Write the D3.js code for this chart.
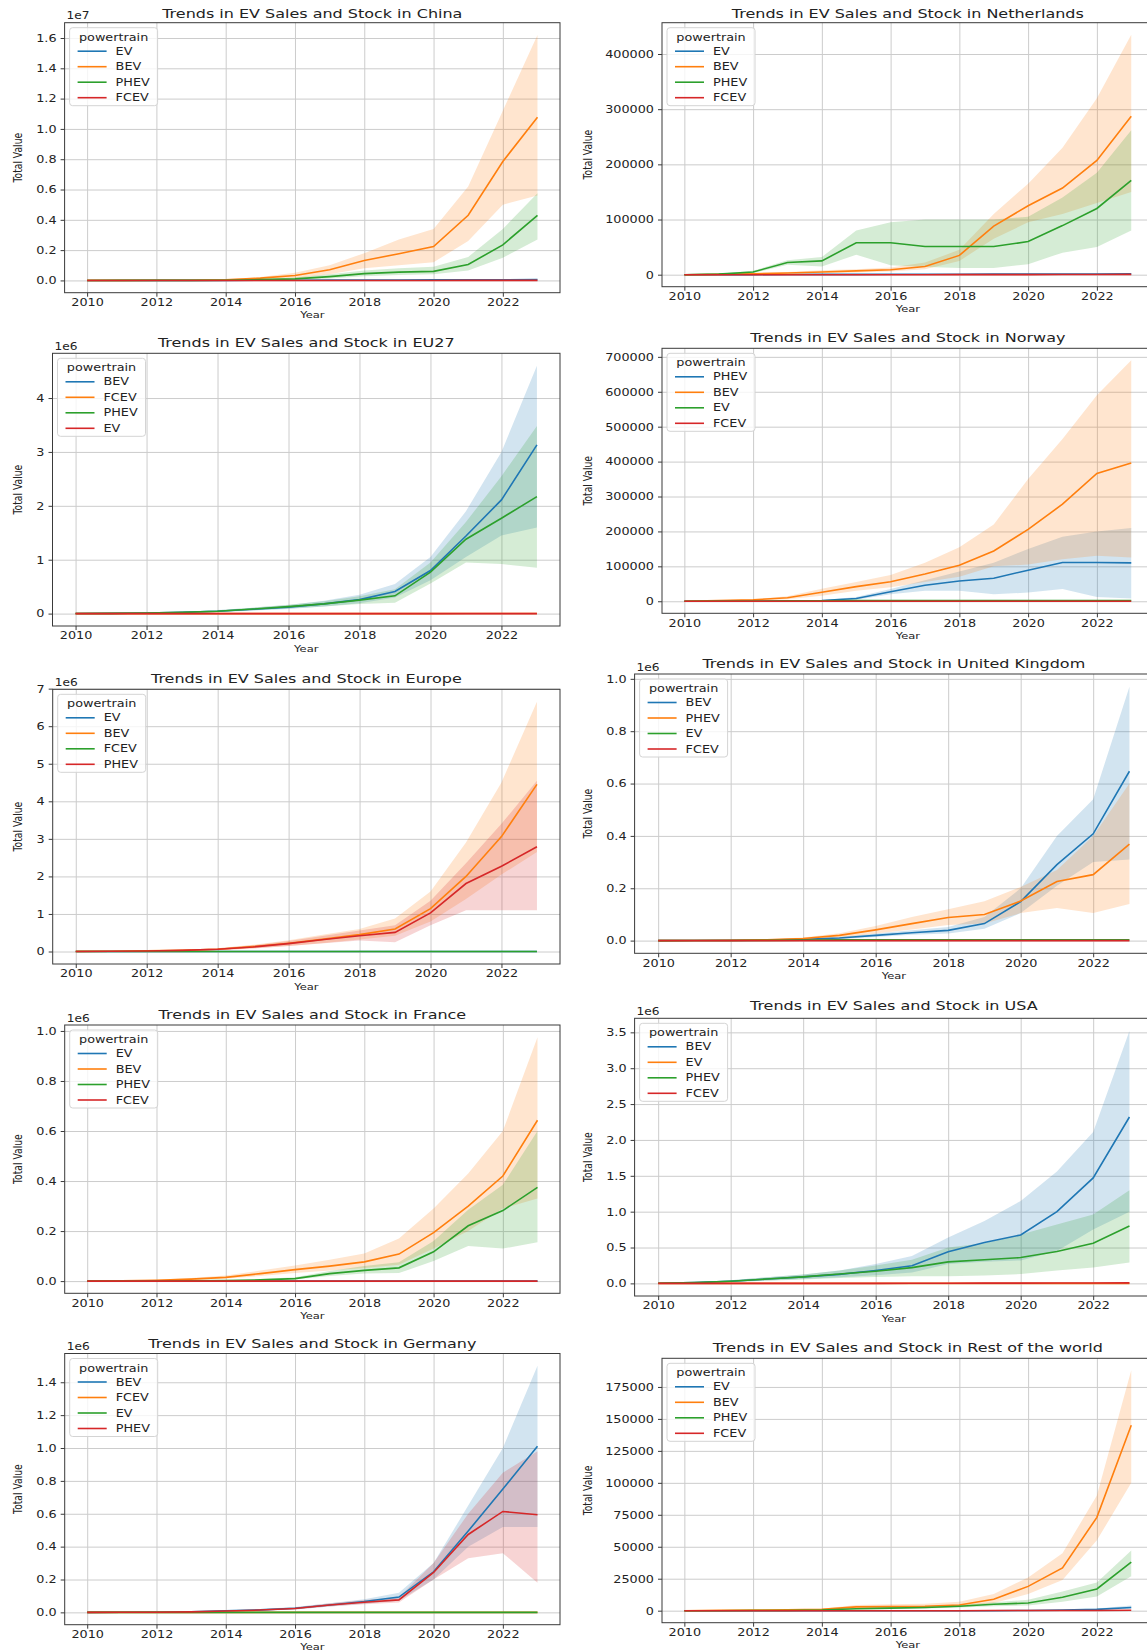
<!DOCTYPE html>
<html><head><meta charset="utf-8">
<script src="https://cdn.jsdelivr.net/npm/d3@7"></script>
<style>
body{margin:0;background:#fff;}
svg{display:block;}
text{font-family:"DejaVu Sans",sans-serif;fill:#222;}
</style>
</head><body>
<svg id="c" width="1147" height="1652"></svg>
<script>
// ---------- shared categories ----------
const years = [2010,2011,2012,2013,2014,2015,2016,2017,2018,2019,2020,2021,2022,2023];
const xTickYears = [2010,2012,2014,2016,2018,2020,2022];

// ---------- values in thousands of vehicles ----------
// China
const china_EV   = [0,0,1,2,4,8,12,18,25,30,35,40,45,50];
const china_BEV  = [2,5,10,15,40,150,330,700,1320,1760,2240,4300,7850,10770];
const china_BEV_lo = [0,1,3,5,15,80,150,400,800,1000,1200,2600,5000,5600];
const china_BEV_hi = [5,10,20,30,70,220,500,1000,1800,2700,3400,6200,11200,16200];
const china_PHEV = [0,1,2,5,15,50,100,250,450,550,600,1050,2350,4300];
const china_PHEV_lo = [0,0,1,2,5,20,40,120,280,350,400,650,1500,2700];
const china_PHEV_hi = [1,2,4,10,25,80,200,400,650,800,900,1550,3400,5750];
const china_FCEV = [0,0,0,0,0,0,0,0,0,0,0,1,2,3];
// Netherlands
const nl_EV   = [0,0.1,0.2,0.3,0.5,0.6,0.7,0.8,0.9,1,1,1.2,1.4,1.5];
const nl_BEV  = [0,0.5,1.5,3,5,7,9,15,35,88,125,157,207,287];
const nl_BEV_lo = [0,0.2,0.5,1,2,4,6,10,25,65,95,110,130,150];
const nl_BEV_hi = [0,1,3,5,8,10,13,22,45,110,165,230,320,435];
const nl_PHEV = [0,1,5,22,25,58,58,51,51,51,60,89,120,171];
const nl_PHEV_lo = [0,0.5,3,18,15,36,17,14,12,12,19,40,50,80];
const nl_PHEV_hi = [0,1.5,7,26,32,80,95,100,100,100,105,140,185,262];
const nl_FCEV = [0,0,0,0,0,0,0,0,0.1,0.1,0.2,0.3,0.4,0.5];
// EU27
const eu_BEV  = [2,5,12,25,45,80,120,180,260,410,800,1440,2110,3130];
const eu_BEV_lo = [1,3,7,15,30,55,85,130,190,300,620,1050,1450,1600];
const eu_BEV_hi = [3,8,18,35,65,110,160,240,350,550,1050,1900,3000,4600];
const eu_FCEV = [0,0,0,0,0,0,0,0.1,0.2,0.3,0.5,0.8,1,1.5];
const eu_PHEV = [1,4,10,22,45,85,130,180,250,330,770,1380,1770,2170];
const eu_PHEV_lo = [0,2,6,14,30,60,95,130,180,200,560,950,920,850];
const eu_PHEV_hi = [2,6,15,30,60,110,165,230,320,450,950,1700,2550,3480];
const eu_EV   = [0,0,0,0,0,0,0,0,0,0,0,0,0,0];
// Norway
const no_PHEV = [0,0,0,0.5,2,8,27,46,58,66,89,111,111,110];
const no_PHEV_lo = [0,0,0,0.2,1,4,20,30,30,20,25,35,12,8];
const no_PHEV_hi = [0,0,0,1,3,12,35,60,85,110,150,185,200,210];
const no_BEV  = [0,2,4,10,26,42,56,78,103,144,206,278,366,396];
const no_BEV_lo = [0,1,2,6,16,30,40,55,70,100,105,120,130,125];
const no_BEV_hi = [0,3,6,14,36,55,75,110,155,220,350,465,590,690];
const no_EV   = [0,0.3,0.5,1,1.5,2,2,2,2,2,2,2,2,2];
const no_FCEV = [0,0,0,0,0,0,0.05,0.1,0.1,0.1,0.1,0.1,0.1,0.1];
// Europe
const eur_EV  = [0,0,0,0,0,0,0,0,0,0,0,0,0,0];
const eur_BEV = [3,8,18,35,60,130,220,330,450,600,1140,2000,3060,4450];
const eur_BEV_lo = [1,4,10,20,35,85,150,230,320,420,800,1400,2050,2650];
const eur_BEV_hi = [5,12,26,50,90,180,300,450,600,880,1600,2900,4500,6650];
const eur_FCEV = [0,0,0,0,0,0,0,0.2,0.3,0.5,0.8,1,1.5,2];
const eur_PHEV = [2,6,15,30,60,120,210,320,420,510,1030,1810,2270,2790];
const eur_PHEV_lo = [1,3,8,15,35,80,150,220,290,250,700,1100,1100,1100];
const eur_PHEV_hi = [3,9,22,45,85,165,280,420,560,700,1350,2350,3400,4550];
// United Kingdom
const uk_BEV  = [0,0.5,1,2,5,10,20,30,39,65,149,290,408,647];
const uk_BEV_lo = [0,0.2,0.5,1,3,6,14,22,27,45,105,210,300,310];
const uk_BEV_hi = [0,1,2,3,7,14,27,40,52,90,200,400,540,970];
const uk_PHEV = [0,0.5,1,3,8,20,41,65,88,100,151,226,252,369];
const uk_PHEV_lo = [0,0.2,0.5,1.5,4,12,27,42,60,65,105,125,105,140];
const uk_PHEV_hi = [0,1,2,5,12,28,56,90,120,150,205,270,400,600];
const uk_EV   = [0,0.2,0.5,1,2,3,3,3,3,3,3,3,3,3];
const uk_FCEV = [0,0,0,0,0,0,0,0,0,0,0,0,0,0];
// France
const fr_EV   = [0,0,0,0,0,0,0,0,0,0,0,0,0,0];
const fr_BEV  = [0,1,3,8,15,30,46,60,77,108,194,300,420,643];
const fr_BEV_lo = [0,0.5,2,5,10,20,32,42,52,65,130,200,290,330];
const fr_BEV_hi = [0,2,5,12,22,42,62,85,110,170,290,430,600,975];
const fr_PHEV = [0,0,0.5,1,2,5,10,30,43,53,117,221,282,375];
const fr_PHEV_lo = [0,0,0.2,0.5,1,3,6,20,30,32,80,140,130,155];
const fr_PHEV_hi = [0,0,1,2,3,8,15,40,60,75,160,285,385,600];
const fr_FCEV = [0,0,0,0,0,0,0,0,0,0,0,0,0,0];
// USA
const us_BEV  = [1,10,30,60,90,125,180,245,440,570,675,1000,1470,2320];
const us_BEV_lo = [0,5,18,40,60,85,115,150,270,300,320,450,750,1000];
const us_BEV_hi = [2,16,45,85,125,180,270,380,640,870,1150,1560,2110,3520];
const us_EV   = [0,0,0,0,0,0,0,0,0,0,0,0,0,0];
const us_PHEV = [1,10,30,60,90,130,170,220,300,330,360,445,560,800];
const us_PHEV_lo = [0,5,18,38,55,75,90,100,100,110,130,180,220,290];
const us_PHEV_hi = [2,16,45,85,125,180,250,330,500,560,680,820,960,1300];
const us_FCEV = [0,0,0,0,0,0,0,1,2,3,4,5,6,7];
// Germany
const de_BEV  = [0,1,2,4,10,15,25,45,66,93,247,495,750,1010];
const de_BEV_lo = [0,0.5,1,2,6,10,18,35,52,70,200,400,520,520];
const de_BEV_hi = [0,2,3,6,14,20,33,56,80,120,300,650,1000,1500];
const de_FCEV = [0,0,0,0,0,0,0,0,0,0,0,0,0,0];
const de_EV   = [0,0,0,0,0,0,0,0,0,0,0,0,0,0];
const de_PHEV = [0,0.5,1,3,8,14,24,45,62,76,243,474,614,594];
const de_PHEV_lo = [0,0.2,0.5,2,5,10,17,35,50,60,200,330,360,180];
const de_PHEV_hi = [0,1,2,5,11,19,31,55,75,92,300,600,850,980];
// Rest of the world
const row_EV  = [0,0,0,0,0,0,0,0,0,0,0.2,0.4,1,2.5];
const row_EV_lo = [0,0,0,0,0,0,0,0,0,0,0,0,0.5,1.5];
const row_EV_hi = [0,0,0,0,0,0,0,0,0,0,0.4,0.8,1.8,4];
const row_BEV = [0,0.3,0.5,0.7,1,3,3.2,3.5,4.5,9,19,33.5,73,145];
const row_BEV_lo = [0,0.1,0.2,0.3,0.5,1.5,2,2,3,6,13,24,55,100];
const row_BEV_hi = [0,0.5,0.8,1.1,1.5,4.5,5,5.5,7,13,26,45,90,188];
const row_PHEV = [0,0,0.1,0.2,0.5,1.5,2,2.5,3.5,5,6,10.5,17,38];
const row_PHEV_lo = [0,0,0,0.1,0.2,1,1.4,1.8,2.5,3.5,4,7,11,27];
const row_PHEV_hi = [0,0,0.2,0.3,0.8,2,2.6,3.2,4.5,6.5,8.5,15,22,47];
const row_FCEV = [0,0,0,0,0,0,0,0,0,0.1,0.1,0.2,0.2,0.3];

// ---------- tick labels ----------
const china_yTicks = [0,2e6,4e6,6e6,8e6,10e6,12e6,14e6,16e6];
const china_yLabels = ["0.0","0.2","0.4","0.6","0.8","1.0","1.2","1.4","1.6"];
const nl_yTicks = [0,100000,200000,300000,400000];
const nl_yLabels = ["0","100000","200000","300000","400000"];
const eu_yTicks = [0,1e6,2e6,3e6,4e6];
const eu_yLabels = ["0","1","2","3","4"];
const no_yTicks = [0,100000,200000,300000,400000,500000,600000,700000];
const no_yLabels = ["0","100000","200000","300000","400000","500000","600000","700000"];
const eur_yTicks = [0,1e6,2e6,3e6,4e6,5e6,6e6,7e6];
const eur_yLabels = ["0","1","2","3","4","5","6","7"];
const uk_yTicks = [0,2e5,4e5,6e5,8e5,1e6];
const uk_yLabels = ["0.0","0.2","0.4","0.6","0.8","1.0"];
const fr_yTicks = [0,2e5,4e5,6e5,8e5,1e6];
const fr_yLabels = ["0.0","0.2","0.4","0.6","0.8","1.0"];
const us_yTicks = [0,5e5,1e6,1.5e6,2e6,2.5e6,3e6,3.5e6];
const us_yLabels = ["0.0","0.5","1.0","1.5","2.0","2.5","3.0","3.5"];
const de_yTicks = [0,2e5,4e5,6e5,8e5,1e6,1.2e6,1.4e6];
const de_yLabels = ["0.0","0.2","0.4","0.6","0.8","1.0","1.2","1.4"];
const row_yTicks = [0,25000,50000,75000,100000,125000,150000,175000];
const row_yLabels = ["0","25000","50000","75000","100000","125000","150000","175000"];

// ---------- panels (legend order = hue order) ----------
const panels = [
  {id:"cn", title:"Trends in EV Sales and Stock in China", offset:"1e7", yTicks:china_yTicks, yLabels:china_yLabels,
   box:[64.6,22.7,560,292.7], titleY:13.3, ylabX:18,
   series:[{name:"EV",mean:china_EV},{name:"BEV",mean:china_BEV,lo:china_BEV_lo,hi:china_BEV_hi},
           {name:"PHEV",mean:china_PHEV,lo:china_PHEV_lo,hi:china_PHEV_hi},{name:"FCEV",mean:china_FCEV}]},
  {id:"nl", title:"Trends in EV Sales and Stock in Netherlands", offset:"", yTicks:nl_yTicks, yLabels:nl_yLabels,
   box:[662,22.7,1153.6,286.7], titleY:13.3, ylabX:588,
   series:[{name:"EV",mean:nl_EV},{name:"BEV",mean:nl_BEV,lo:nl_BEV_lo,hi:nl_BEV_hi},
           {name:"PHEV",mean:nl_PHEV,lo:nl_PHEV_lo,hi:nl_PHEV_hi},{name:"FCEV",mean:nl_FCEV}]},
  {id:"eu", title:"Trends in EV Sales and Stock in EU27", offset:"1e6", yTicks:eu_yTicks, yLabels:eu_yLabels,
   box:[52.5,353.3,560,626], titleY:342.7, ylabX:18,
   series:[{name:"BEV",mean:eu_BEV,lo:eu_BEV_lo,hi:eu_BEV_hi},{name:"FCEV",mean:eu_FCEV},
           {name:"PHEV",mean:eu_PHEV,lo:eu_PHEV_lo,hi:eu_PHEV_hi},{name:"EV",mean:eu_EV}]},
  {id:"no", title:"Trends in EV Sales and Stock in Norway", offset:"", yTicks:no_yTicks, yLabels:no_yLabels,
   box:[662,348.3,1153.6,613.3], titleY:337.3, ylabX:588,
   series:[{name:"PHEV",mean:no_PHEV,lo:no_PHEV_lo,hi:no_PHEV_hi},{name:"BEV",mean:no_BEV,lo:no_BEV_lo,hi:no_BEV_hi},
           {name:"EV",mean:no_EV},{name:"FCEV",mean:no_FCEV}]},
  {id:"eur", title:"Trends in EV Sales and Stock in Europe", offset:"1e6", yTicks:eur_yTicks, yLabels:eur_yLabels,
   box:[52.7,689.3,560,964], titleY:678.3, ylabX:18,
   series:[{name:"EV",mean:eur_EV},{name:"BEV",mean:eur_BEV,lo:eur_BEV_lo,hi:eur_BEV_hi},
           {name:"FCEV",mean:eur_FCEV},{name:"PHEV",mean:eur_PHEV,lo:eur_PHEV_lo,hi:eur_PHEV_hi}]},
  {id:"uk", title:"Trends in EV Sales and Stock in United Kingdom", offset:"1e6", yTicks:uk_yTicks, yLabels:uk_yLabels,
   box:[634.6,674,1153,953.3], titleY:664, ylabX:588,
   series:[{name:"BEV",mean:uk_BEV,lo:uk_BEV_lo,hi:uk_BEV_hi},{name:"PHEV",mean:uk_PHEV,lo:uk_PHEV_lo,hi:uk_PHEV_hi},
           {name:"EV",mean:uk_EV},{name:"FCEV",mean:uk_FCEV}]},
  {id:"fr", title:"Trends in EV Sales and Stock in France", offset:"1e6", yTicks:fr_yTicks, yLabels:fr_yLabels,
   box:[64.7,1025,560,1293.3], titleY:1015, ylabX:18,
   series:[{name:"EV",mean:fr_EV},{name:"BEV",mean:fr_BEV,lo:fr_BEV_lo,hi:fr_BEV_hi},
           {name:"PHEV",mean:fr_PHEV,lo:fr_PHEV_lo,hi:fr_PHEV_hi},{name:"FCEV",mean:fr_FCEV}]},
  {id:"us", title:"Trends in EV Sales and Stock in USA", offset:"1e6", yTicks:us_yTicks, yLabels:us_yLabels,
   box:[634.6,1018.3,1153,1296], titleY:1006, ylabX:588,
   series:[{name:"BEV",mean:us_BEV,lo:us_BEV_lo,hi:us_BEV_hi},{name:"EV",mean:us_EV},
           {name:"PHEV",mean:us_PHEV,lo:us_PHEV_lo,hi:us_PHEV_hi},{name:"FCEV",mean:us_FCEV}]},
  {id:"de", title:"Trends in EV Sales and Stock in Germany", offset:"1e6", yTicks:de_yTicks, yLabels:de_yLabels,
   box:[64.7,1353.5,560,1624.7], titleY:1344, ylabX:18,
   series:[{name:"BEV",mean:de_BEV,lo:de_BEV_lo,hi:de_BEV_hi},{name:"FCEV",mean:de_FCEV},
           {name:"EV",mean:de_EV},{name:"PHEV",mean:de_PHEV,lo:de_PHEV_lo,hi:de_PHEV_hi}]},
  {id:"row", title:"Trends in EV Sales and Stock in Rest of the world", offset:"", yTicks:row_yTicks, yLabels:row_yLabels,
   box:[662,1358.3,1153.6,1622.7], titleY:1347.3, ylabX:588,
   series:[{name:"EV",mean:row_EV,lo:row_EV_lo,hi:row_EV_hi},{name:"BEV",mean:row_BEV,lo:row_BEV_lo,hi:row_BEV_hi},
           {name:"PHEV",mean:row_PHEV,lo:row_PHEV_lo,hi:row_PHEV_hi},{name:"FCEV",mean:row_FCEV}]}
];

const tab10 = ["#1f77b4","#ff7f0e","#2ca02c","#d62728"];
const SX = 1.22;       // horizontal text stretch seen in the reference
const K = 1000;        // values stored in thousands
const svg = d3.select("#c");

function drawPanel(p) {
  const [L,T,R,B] = p.box;
  const W = R - L, H = B - T;
  const g = svg.append("g");
  const x = d3.scaleLinear().domain([2009.35, 2023.65]).range([L, R]);
  const vals = [];
  p.series.forEach(s => {
    (s.hi || s.mean).forEach(v => vals.push(v*K));
    (s.lo || s.mean).forEach(v => vals.push(v*K));
  });
  const vmin = Math.min(0, d3.min(vals)), vmax = d3.max(vals);
  const pad = (vmax - vmin) * 0.05;
  const y = d3.scaleLinear().domain([vmin - pad, vmax + pad]).range([B, T]);

  // grid
  g.append("g").attr("transform", `translate(0,${B})`)
    .call(d3.axisBottom(x).tickValues(xTickYears).tickSize(-H).tickFormat(""))
    .call(a => { a.select(".domain").remove(); a.selectAll("line").attr("stroke","#cccccc").attr("stroke-width",1); });
  g.append("g").attr("transform", `translate(${L},0)`)
    .call(d3.axisLeft(y).tickValues(p.yTicks).tickSize(-W).tickFormat(""))
    .call(a => { a.select(".domain").remove(); a.selectAll("line").attr("stroke","#cccccc").attr("stroke-width",1); });

  const clipId = "clip-" + p.id;
  g.append("clipPath").attr("id", clipId).append("rect")
    .attr("x", L).attr("y", T).attr("width", W).attr("height", H);
  const plot = g.append("g").attr("clip-path", `url(#${clipId})`);

  // confidence bands
  p.series.forEach((s, i) => {
    if (!s.lo) return;
    const area = d3.area()
      .x((d, j) => x(years[j]))
      .y0((d, j) => y(s.lo[j]*K))
      .y1((d, j) => y(s.hi[j]*K));
    plot.append("path").datum(s.mean).attr("d", area)
      .attr("fill", tab10[i]).attr("fill-opacity", 0.2).attr("stroke","none");
  });
  // mean lines
  p.series.forEach((s, i) => {
    const line = d3.line().x((d, j) => x(years[j])).y(d => y(d*K));
    plot.append("path").datum(s.mean).attr("d", line)
      .attr("fill","none").attr("stroke", tab10[i]).attr("stroke-width", 1.6);
  });

  // frame
  g.append("rect").attr("x", L).attr("y", T).attr("width", W).attr("height", H)
    .attr("fill","none").attr("stroke","#3a3a3a").attr("stroke-width",1);

  // x axis
  const xa = g.append("g").attr("transform", `translate(0,${B})`)
    .call(d3.axisBottom(x).tickValues(xTickYears).tickFormat(d3.format("d")).tickSize(4).tickPadding(2));
  xa.select(".domain").remove();
  xa.attr("font-family", "DejaVu Sans").attr("font-size", 10.5);
  xa.selectAll("line").attr("stroke","#3a3a3a");
  xa.selectAll("text").attr("fill","#222").attr("transform", `scale(${SX},1)`);

  // y axis
  const ya = g.append("g").attr("transform", `translate(${L},0)`)
    .call(d3.axisLeft(y).tickValues(p.yTicks).tickFormat((d, i) => p.yLabels[i]).tickSize(4).tickPadding(4));
  ya.select(".domain").remove();
  ya.attr("font-family", "DejaVu Sans").attr("font-size", 10.5);
  ya.selectAll("line").attr("stroke","#3a3a3a");
  ya.selectAll("text").attr("fill","#222").attr("x", -8/SX).attr("transform", `scale(${SX},1)`);

  // offset text
  if (p.offset) {
    g.append("text").attr("transform", `translate(${L+2},${T-6.5}) scale(${SX},1)`)
      .attr("font-size", 10).attr("dominant-baseline","central").text(p.offset);
  }
  // title
  g.append("text").attr("transform", `translate(${(L+R)/2},${p.titleY}) scale(1.25,1)`)
    .attr("font-size", 12.8).attr("text-anchor","middle").attr("dominant-baseline","central").text(p.title);
  // axis labels
  g.append("text").attr("transform", `translate(${(L+R)/2},${B+22}) scale(1.25,1)`)
    .attr("font-size", 9.2).attr("text-anchor","middle").attr("dominant-baseline","central").text("Year");
  g.append("text").attr("transform", `translate(${p.ylabX},${(T+B)/2}) scale(1.25,1) rotate(-90)`)
    .attr("font-size", 9.2).attr("text-anchor","middle").attr("dominant-baseline","central").text("Total Value");

  // legend
  const lg = g.append("g").attr("transform", `translate(${L+5},${T+5})`);
  lg.append("rect").attr("width", 88).attr("height", 78).attr("rx", 3)
    .attr("fill","#fff").attr("fill-opacity",0.8).attr("stroke","#d4d4d4");
  lg.append("text").attr("transform", `translate(44,9.5) scale(${SX},1)`)
    .attr("font-size", 10.5).attr("text-anchor","middle").attr("dominant-baseline","central").text("powertrain");
  p.series.forEach((s, i) => {
    const yy = 23.5 + i*15.5;
    lg.append("line").attr("x1", 8).attr("x2", 37).attr("y1", yy).attr("y2", yy)
      .attr("stroke", tab10[i]).attr("stroke-width", 1.6);
    lg.append("text").attr("transform", `translate(46,${yy}) scale(${SX},1)`)
      .attr("font-size", 10.5).attr("dominant-baseline","central").text(s.name);
  });
}

panels.forEach(drawPanel);
</script>
</body></html>
